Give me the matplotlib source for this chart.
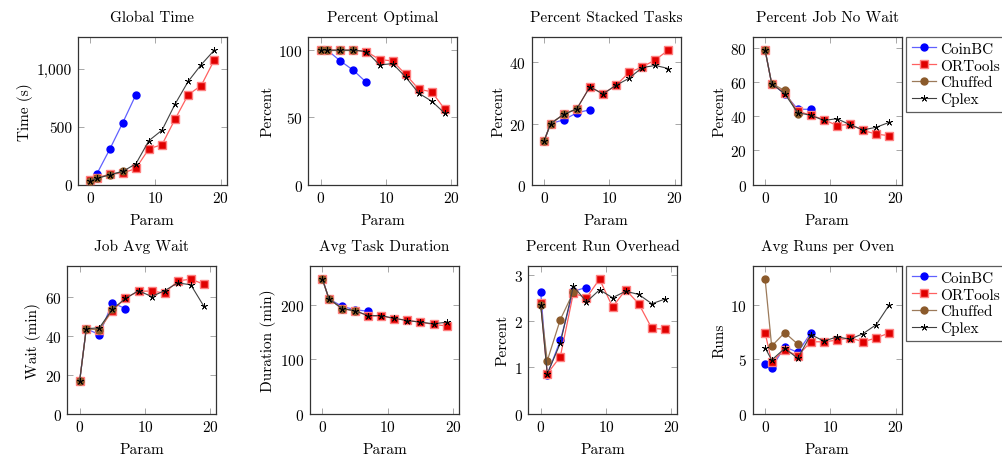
import numpy as np
import matplotlib
matplotlib.use('Agg')
import matplotlib.pyplot as plt
from matplotlib.ticker import FuncFormatter

plt.rcParams['font.family'] = 'serif'
plt.rcParams['font.serif'] = ['cmr10', 'DejaVu Serif']
plt.rcParams['mathtext.fontset'] = 'cm'
plt.rcParams['axes.formatter.use_mathtext'] = True
plt.rcParams['font.size'] = 11

# x values (Param)
params = [0, 1, 3, 5, 7, 9, 11, 13, 15, 17, 19]
params_short = [0, 1, 3, 5, 7]
params_chuffed = [0, 1, 3, 5]

# Global Time (s)
time_coin = [None, 90, 305, 535, 775]
time_ort = [40, 60, 90, 100, 140, 310, 345, 565, 775, 855, 1075]
time_chuf = [30, 55, 85, 115]
time_cplex = [30, 55, 85, 115, 180, 380, 470, 695, 890, 1035, 1160]

# Percent Optimal
opt_coin = [100, 100, 92, 85, 76]
opt_ort = [100, 100, 100, 100, 99, 93, 92, 82, 71, 69, 56]
opt_chuf = [100, 100, 100, 100]
opt_cplex = [100, 100, 100, 100, 99, 89, 90, 80, 68, 62, 53]

# Percent Stacked Tasks
stack_coin = [14.3, 20, 21.2, 23.5, 24.5]
stack_ort = [14.3, 20, 23, 24.8, 32, 29.7, 32.5, 36.7, 38.5, 40.8, 44]
stack_chuf = [14.3, 20, 23, 24.8]
stack_cplex = [14.3, 20, 23, 24.8, 32, 29.7, 32.5, 34.8, 38.3, 39, 38]

# Percent Job No Wait
nowait_coin = [78.5, 59, 53, 44, 44]
nowait_ort = [78.5, 59, 53.5, 43, 40.5, 38, 34.5, 35.2, 31.7, 29.5, 28.6]
nowait_chuf = [78.5, 59, 55, 41]
nowait_cplex = [78.5, 59, 53, 42, 40.5, 37.5, 38.5, 35, 32, 33.5, 36.4]

# Job Avg Wait (min)
wait_coin = [17, 43.5, 40.5, 56.8, 53.8]
wait_ort = [17, 43.5, 43, 52.8, 59.2, 62.7, 62.8, 61.8, 68, 68.9, 66.3]
wait_chuf = [17, 43.5, 43, 53.5]
wait_cplex = [17, 43.5, 44, 53.5, 59, 63, 60, 63, 67, 66, 55]

# Avg Task Duration (min)
dur_coin = [247, 211, 197, 191, 188]
dur_ort = [247, 211, 193, 189, 179.5, 179.5, 174.6, 171.6, 168, 164, 161]
dur_chuf = [247, 211, 193, 189]
dur_cplex = [247, 211, 193, 189, 180, 180, 175, 171, 168, 165, 168]

# Percent Run Overhead
over_coin = [2.62, 0.84, 1.58, 2.64, 2.72]
over_ort = [2.38, 0.86, 1.23, 2.6, 2.5, 2.9, 2.3, 2.67, 2.37, 1.84, 1.82]
over_chuf = [2.34, 1.14, 2.03, 2.62]
over_cplex = [2.34, 0.86, 1.52, 2.75, 2.41, 2.67, 2.5, 2.64, 2.57, 2.37, 2.47]

# Avg Runs per Oven
runs_coin = [4.53, 4.23, 6.13, 5.62, 7.4]
runs_ort = [7.4, 4.77, 5.83, 5.32, 6.59, 6.59, 6.74, 6.95, 6.59, 6.95, 7.4]
runs_chuf = [12.33, 6.19, 7.43, 6.37]
runs_cplex = [6.04, 4.92, 5.98, 5.08, 7.25, 6.65, 7.04, 6.83, 7.34, 8.16, 9.97]

panels = [
    ("Global Time", "Time (s)", time_coin, time_ort, time_chuf, time_cplex, [0, 500, 1000]),
    ("Percent Optimal", "Percent", opt_coin, opt_ort, opt_chuf, opt_cplex, [0, 50, 100]),
    ("Percent Stacked Tasks", "Percent", stack_coin, stack_ort, stack_chuf, stack_cplex, [0, 20, 40]),
    ("Percent Job No Wait", "Percent", nowait_coin, nowait_ort, nowait_chuf, nowait_cplex, [0, 20, 40, 60, 80]),
    ("Job Avg Wait", "Wait (min)", wait_coin, wait_ort, wait_chuf, wait_cplex, [0, 20, 40, 60]),
    ("Avg Task Duration", "Duration (min)", dur_coin, dur_ort, dur_chuf, dur_cplex, [0, 100, 200]),
    ("Percent Run Overhead", "Percent", over_coin, over_ort, over_chuf, over_cplex, [0, 1, 2, 3]),
    ("Avg Runs per Oven", "Runs", runs_coin, runs_ort, runs_chuf, runs_cplex, [0, 5, 10]),
]

# axes placement in pixels (left, top)
W, H = 1003, 460
lefts = [77.7, 308.3, 531.7, 752.7, 67.3, 310, 528.3, 752.7]
tops = [37.7] * 4 + [266.7] * 4
AW, AH = 149, 148

fig = plt.figure(figsize=(W / 100, H / 100), dpi=100)

def comma(v, pos):
    return f"{int(v):,}"

for i, (title, ylabel, coin, ort, chuf, cplex, yticks) in enumerate(panels):
    ax = fig.add_axes([lefts[i] / W, (H - tops[i] - AH) / H, AW / W, AH / H])
    coin_arr = np.array([np.nan if v is None else v for v in coin], dtype=float)
    ax.plot(params_short, coin_arr, color='#6060ff', lw=0.9, marker='o', ms=5,
            mfc='#0000ff', mec='#0000ff', label='CoinBC', zorder=2)
    ax.plot(params, ort, color='#ff6060', lw=0.9, marker='s', ms=5.2,
            mfc='#e00000', mec='#ff8080', mew=1.0, label='ORTools', zorder=3)
    ax.plot(params_chuffed, chuf, color='#9c7a5a', lw=0.9, marker='o', ms=5,
            mfc='#8b5a2b', mec='#8b5a2b', label='Chuffed', zorder=4)
    ax.plot(params, cplex, color='#404040', lw=0.8, marker=(5, 2, 0), ms=5,
            mfc='black', mec='black', mew=0.5, label='Cplex', zorder=5)

    ymax = max(max(v for v in s if v is not None) for s in (coin, ort, chuf, cplex))
    ax.set_ylim(0, ymax * 1.1)
    ax.set_xlim(-1.9, 20.9)
    ax.set_xticks([0, 10, 20])
    ax.set_yticks(yticks)
    if i == 0:
        ax.yaxis.set_major_formatter(FuncFormatter(comma))
    ax.set_title(title, fontsize=11, pad=11)
    ax.set_xlabel("Param", fontsize=11, labelpad=6)
    ax.set_ylabel(ylabel, fontsize=11, labelpad=3)
    ax.tick_params(direction='in', top=True, right=True, length=4, width=0.6,
                   color='#999999', labelsize=11, pad=4)
    for sp in ax.spines.values():
        sp.set_color('#333333')
        sp.set_linewidth(0.9)

    if i in (3, 7):
        leg = ax.legend(loc='upper left', bbox_to_anchor=(1.03, 1.0), frameon=True,
                        fancybox=False, edgecolor='#333333', fontsize=11,
                        handlelength=1.6, handletextpad=0.3, borderpad=0.35,
                        labelspacing=0.2, borderaxespad=0.0)
        leg.get_frame().set_linewidth(0.9)

fig.savefig('out.png', dpi=100)
